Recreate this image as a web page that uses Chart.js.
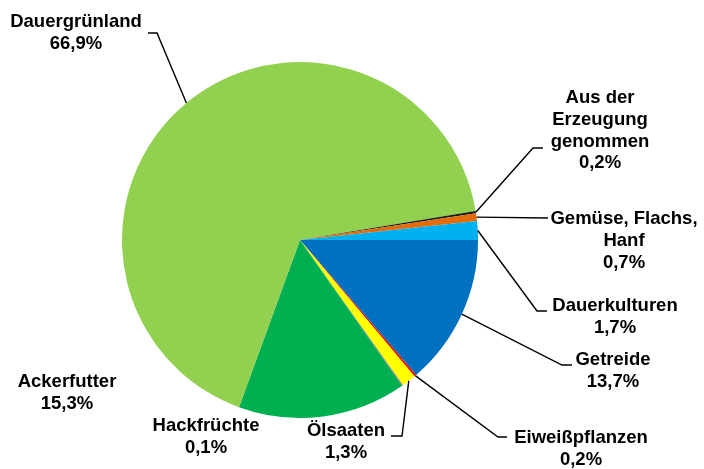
<!DOCTYPE html>
<html lang="de">
<head>
  <meta charset="UTF-8" />
  <title>Landwirtschaftliche Nutzfläche</title>
  <script src="https://cdn.jsdelivr.net/npm/chart.js"></script>
  <style>
    html, body { margin: 0; padding: 0; background: #fff; }
    #wrap { width: 704px; height: 469px; }
  </style>
</head>
<body>
  <div id="wrap"><canvas id="pie" width="704" height="469"></canvas></div>
  <script>
    // data, clockwise from 3 o'clock
    const categories = ['Getreide', 'Eiweißpflanzen', 'Ölsaaten', 'Hackfrüchte', 'Ackerfutter',
      'Dauergrünland', 'Aus der Erzeugung genommen', 'Gemüse, Flachs, Hanf', 'Dauerkulturen'];
    const shares = [13.7, 0.2, 1.3, 0.1, 15.3, 66.9, 0.2, 0.7, 1.7];
    const labelLines = [
      ['Getreide'], ['Eiweißpflanzen'], ['Ölsaaten'], ['Hackfrüchte'], ['Ackerfutter'],
      ['Dauergrünland'], ['Aus der', 'Erzeugung', 'genommen'], ['Gemüse, Flachs,', 'Hanf'], ['Dauerkulturen']
    ];
    const colors = ['#0070C0', '#FF0000', '#FFFF00', '#8470A8', '#00B050',
      '#92D050', '#1a1a1a', '#E36C09', '#00B0F0'];

    // label layout: text centre x, first baseline y, elbow and end of leader (null = no leader)
    const labelLayout = [
      { x: 613, y: 365, elbow: [562, 365], end: [572, 365] },
      { x: 581, y: 443, elbow: [498, 437], end: [507, 437] },
      { x: 346, y: 436, elbow: [402, 436], end: [391, 436] },
      { x: 206, y: 431, elbow: null, end: null },
      { x: 67,  y: 387, elbow: null, end: null },
      { x: 76,  y: 27,  elbow: [157, 33], end: [148, 33] },
      { x: 600, y: 103, elbow: [533, 148], end: [543, 148] },
      { x: 624, y: 224, elbow: [548, 218], end: [548, 218] },
      { x: 615, y: 311, elbow: [537, 311], end: [547, 311] }
    ];

    function pct(v) {
      return v.toFixed(1).replace('.', ',') + '%';
    }

    const labelPlugin = {
      id: 'pieLabels',
      afterDraw(chart) {
        const ctx = chart.ctx;
        const arcs = chart.getDatasetMeta(0).data;
        ctx.save();
        ctx.strokeStyle = '#000';
        ctx.lineWidth = 1.4;
        arcs.forEach((arc, i) => {
          const lay = labelLayout[i];
          if (lay.elbow) {
            const mid = (arc.startAngle + arc.endAngle) / 2;
            const sx = arc.x + Math.cos(mid) * arc.outerRadius;
            const sy = arc.y + Math.sin(mid) * arc.outerRadius;
            ctx.beginPath();
            ctx.moveTo(sx, sy);
            ctx.lineTo(lay.elbow[0], lay.elbow[1]);
            ctx.lineTo(lay.end[0], lay.end[1]);
            ctx.stroke();
          }
          const lines = labelLines[i].concat([pct(shares[i])]);
          ctx.fillStyle = '#000';
          ctx.font = 'bold 18.5px "Liberation Sans", Arial, sans-serif';
          ctx.textAlign = 'center';
          ctx.textBaseline = 'alphabetic';
          lines.forEach((t, k) => ctx.fillText(t, lay.x, lay.y + k * 21.8));
        });
        ctx.restore();
      }
    };

    new Chart(document.getElementById('pie').getContext('2d'), {
      type: 'pie',
      data: {
        labels: categories,
        datasets: [{
          data: shares,
          backgroundColor: colors,
          borderWidth: 0
        }]
      },
      options: {
        responsive: false,
        animation: false,
        rotation: 90,
        layout: { padding: { left: 122, right: 226, top: 62, bottom: 51 } },
        plugins: {
          legend: { display: false },
          tooltip: { enabled: false }
        }
      },
      plugins: [labelPlugin]
    });
  </script>
</body>
</html>
